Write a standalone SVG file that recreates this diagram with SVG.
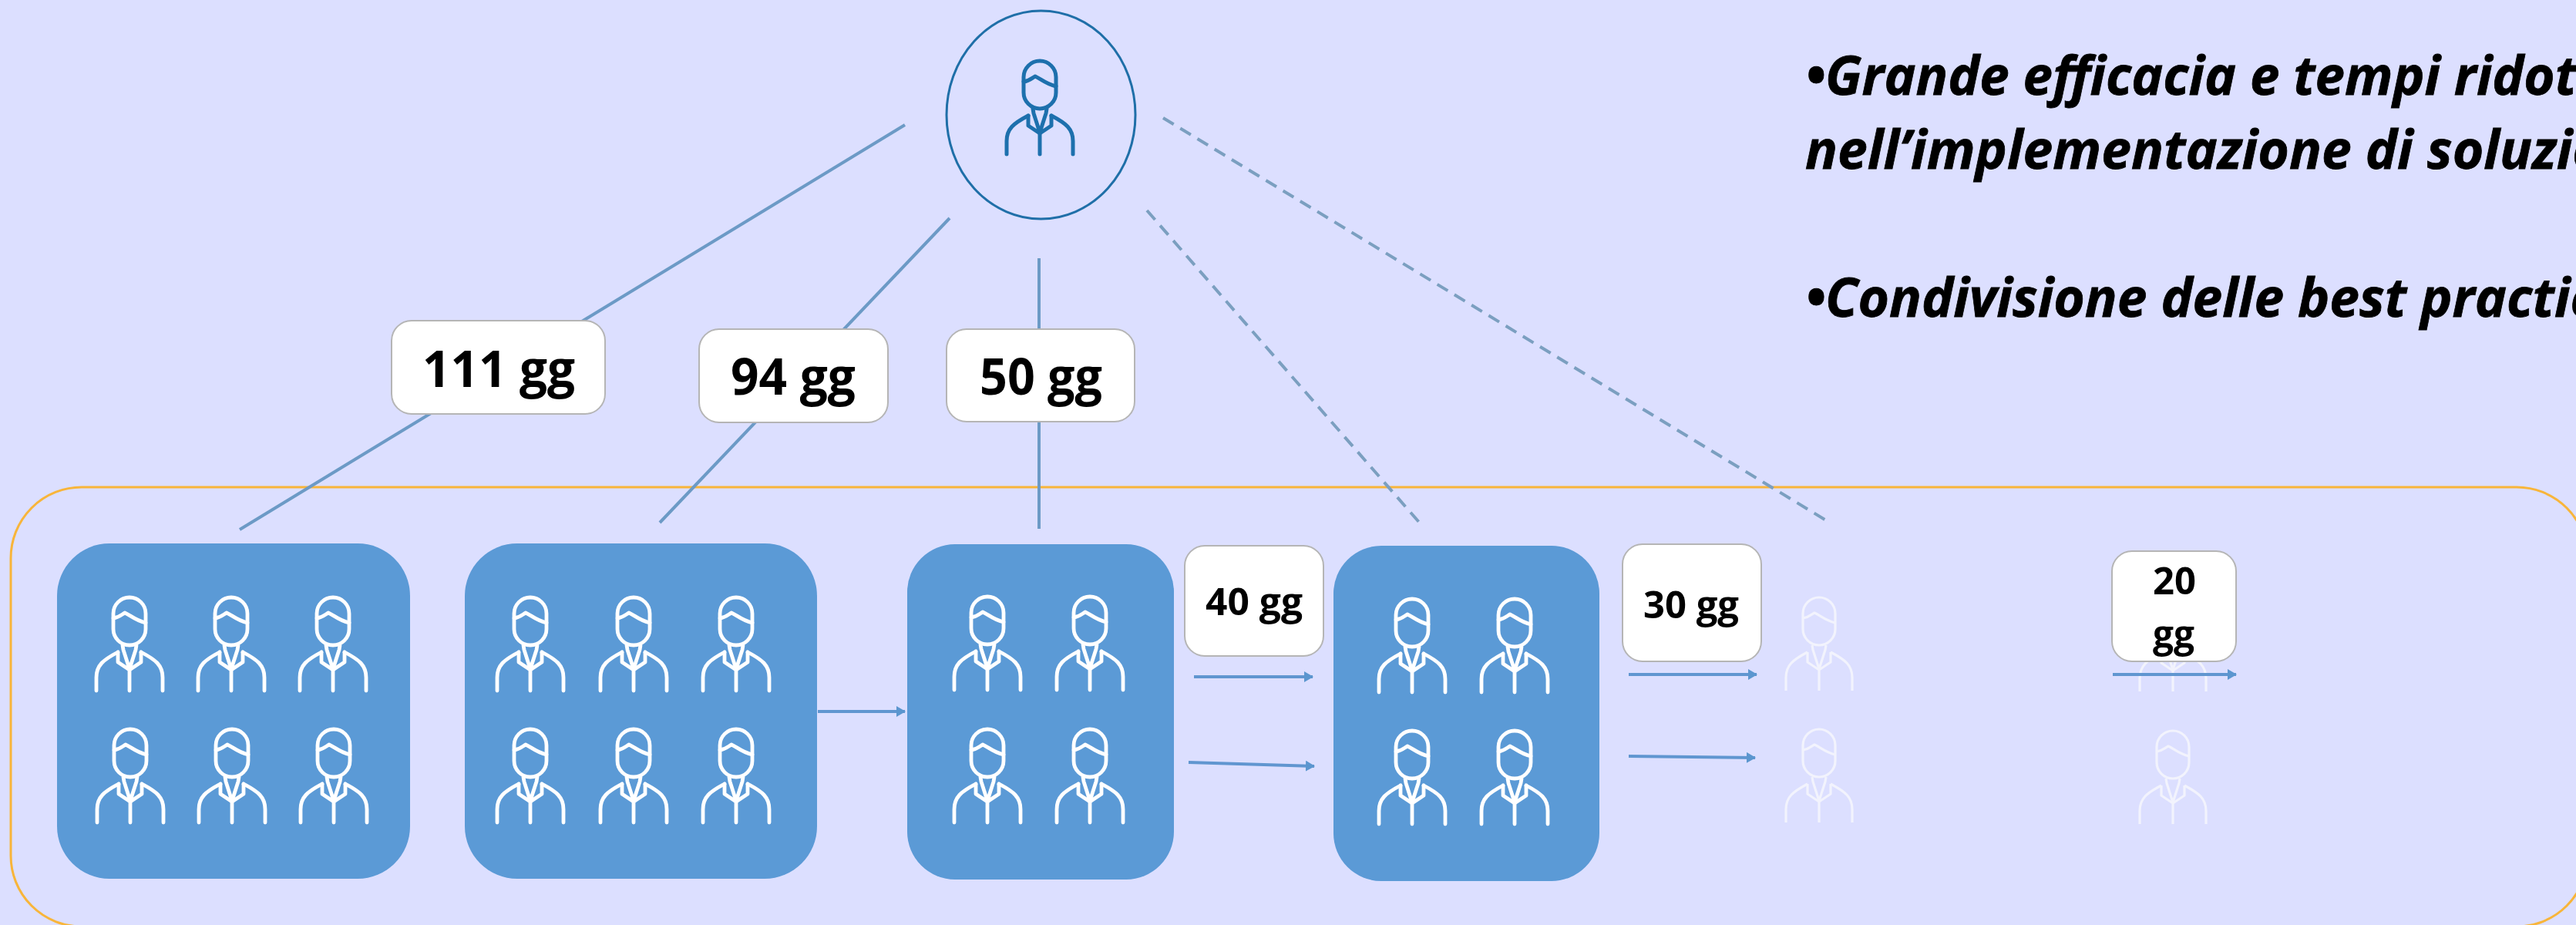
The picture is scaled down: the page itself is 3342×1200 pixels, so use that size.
<svg xmlns="http://www.w3.org/2000/svg" xmlns:xlink="http://www.w3.org/1999/xlink" width="3342" height="1200" viewBox="0 0 3342 1200">
<style>
.person{fill:none;stroke-width:4.8;stroke-linecap:round;stroke-linejoin:round}
.w{stroke:#fff}
.pale{stroke:#f2f3fd;stroke-width:3.2;stroke-linecap:butt}
.top{stroke:#1d70ad;stroke-width:5}
.box{fill:#5b9ad6}
.tag{fill:#fff;stroke:#b5b5b5;stroke-width:2}
.t{font-family:"Open Sans","Liberation Sans",sans-serif;font-weight:700;fill:#000}
.big{font-size:67px}
.mid{font-size:49px}
.note{font-family:"Open Sans","Liberation Sans",sans-serif;font-weight:700;font-style:italic;font-size:70px;fill:#000;stroke:#000;stroke-width:.8}
.ln{fill:none;stroke:#6c9ac6;stroke-width:4}
.dash{fill:none;stroke:#7b9fc0;stroke-width:4;stroke-dasharray:16 10}
.arr{fill:none;stroke:#6096d0;stroke-width:4;marker-end:url(#ah)}
</style>
<defs>
<marker id="ah" viewBox="0 0 12 14" refX="11" refY="7" markerWidth="12" markerHeight="14" markerUnits="userSpaceOnUse" orient="auto"><path d="M0,0L12,7L0,14Z" fill="#5b96cf"/></marker>
<g id="p">
<rect x="-21" y="0" width="42" height="62" rx="21" ry="21"/>
<path d="M-21,27C-13,26-10,22-6,20C1,23 8,30 21,33"/>
<path d="M-9,62L-8,68L0,93L8,68L9,62"/>
<path d="M-15,71V84L0,94L15,84V71"/>
<path d="M-43,121V104C-43,88-34,81-15,71"/>
<path d="M43,121V104C43,88 34,81 15,71"/>
<path d="M0,93V121"/>
</g>
</defs>
<rect id="background" width="3342" height="1200" fill="#dcdfff"/>
<rect id="container" x="14" y="632" width="3343" height="570" rx="92" ry="92" fill="none" stroke="#f8b53a" stroke-width="3"/>
<g id="connectors">
<path class="ln" d="M1174,162L311,687"/>
<path class="ln" d="M1232,283L856,678"/>
<path class="ln" d="M1348,335V686"/>
<path class="dash" d="M1488,273L1845,682"/>
<path class="dash" d="M1509,153L2374,678"/>
<path class="arr" d="M1061,923H1174"/>
<path class="arr" d="M1549,878H1703"/>
<path class="arr" d="M1542,989L1705,994"/>
<path class="arr" d="M2113,875H2279"/>
<path class="arr" d="M2113,981L2277,983"/>
</g>
<g id="manager">
<ellipse cx="1350.5" cy="149" rx="122.5" ry="135" fill="none" stroke="#1f6fa8" stroke-width="3"/>
<use xlink:href="#p" class="person top" transform="translate(1349,79)"/>
</g>
<g id="team-6a">
<rect class="box" x="74" y="705" width="458" height="435" rx="68"/>
<use xlink:href="#p" class="person w" transform="translate(168,775)"/>
<use xlink:href="#p" class="person w" transform="translate(300,775)"/>
<use xlink:href="#p" class="person w" transform="translate(432,775)"/>
<use xlink:href="#p" class="person w" transform="translate(169,946)"/>
<use xlink:href="#p" class="person w" transform="translate(301,946)"/>
<use xlink:href="#p" class="person w" transform="translate(433,946)"/>
</g>
<g id="team-6b">
<rect class="box" x="603" y="705" width="457" height="435" rx="68"/>
<use xlink:href="#p" class="person w" transform="translate(688,775)"/>
<use xlink:href="#p" class="person w" transform="translate(822,775)"/>
<use xlink:href="#p" class="person w" transform="translate(955,775)"/>
<use xlink:href="#p" class="person w" transform="translate(688,946)"/>
<use xlink:href="#p" class="person w" transform="translate(822,946)"/>
<use xlink:href="#p" class="person w" transform="translate(955,946)"/>
</g>
<g id="team-4a">
<rect class="box" x="1177" y="706" width="346" height="435" rx="62"/>
<use xlink:href="#p" class="person w" transform="translate(1281,774)"/>
<use xlink:href="#p" class="person w" transform="translate(1414,774)"/>
<use xlink:href="#p" class="person w" transform="translate(1281,946)"/>
<use xlink:href="#p" class="person w" transform="translate(1414,946)"/>
</g>
<g id="team-4b">
<rect class="box" x="1730" y="708" width="345" height="435" rx="62"/>
<use xlink:href="#p" class="person w" transform="translate(1832,777)"/>
<use xlink:href="#p" class="person w" transform="translate(1965,777)"/>
<use xlink:href="#p" class="person w" transform="translate(1832,948)"/>
<use xlink:href="#p" class="person w" transform="translate(1965,948)"/>
</g>
<g id="team-2a">
<use xlink:href="#p" class="person pale" transform="translate(2360,775)"/>
<use xlink:href="#p" class="person pale" transform="translate(2360,946)"/>
</g>
<g id="team-2b">
<use xlink:href="#p" class="person pale" transform="translate(2819,776)"/>
<use xlink:href="#p" class="person pale" transform="translate(2819,948)"/>
</g>
<g id="tag-111">
<rect class="tag" x="508" y="416" width="277" height="121" rx="26"/>
<text class="t big" x="548" y="502" textLength="198" lengthAdjust="spacingAndGlyphs">111 gg</text>
</g>
<g id="tag-94">
<rect class="tag" x="907" y="427" width="245" height="121" rx="26"/>
<text class="t big" x="948" y="512" textLength="162" lengthAdjust="spacingAndGlyphs">94 gg</text>
</g>
<g id="tag-50">
<rect class="tag" x="1228" y="427" width="244" height="120" rx="26"/>
<text class="t big" x="1271" y="512" textLength="159" lengthAdjust="spacingAndGlyphs">50 gg</text>
</g>
<g id="tag-40">
<rect class="tag" x="1537" y="708" width="180" height="143" rx="26"/>
<text class="t mid" x="1564" y="798" textLength="126" lengthAdjust="spacingAndGlyphs">40 gg</text>
</g>
<g id="tag-30">
<rect class="tag" x="2105" y="706" width="180" height="152" rx="26"/>
<text class="t mid" x="2132" y="802" textLength="124" lengthAdjust="spacingAndGlyphs">30 gg</text>
</g>
<g id="tag-20">
<rect class="tag" x="2740" y="715" width="161" height="143" rx="26"/>
<text class="t mid" x="2793" y="771" textLength="56" lengthAdjust="spacingAndGlyphs">20</text>
<text class="t mid" x="2793" y="840" textLength="54" lengthAdjust="spacingAndGlyphs">gg</text>
</g>
<path class="arr" d="M2741,875H2901"/>
<g id="notes">
<text class="note" x="2342" y="123" textLength="1001" lengthAdjust="spacingAndGlyphs">•Grande efficacia e tempi ridot</text>
<text class="note" x="2342" y="219" textLength="1036" lengthAdjust="spacingAndGlyphs">nell’implementazione di soluzio</text>
<text class="note" x="2342" y="411" textLength="1026" lengthAdjust="spacingAndGlyphs">•Condivisione delle best practic</text>
</g>
</svg>
